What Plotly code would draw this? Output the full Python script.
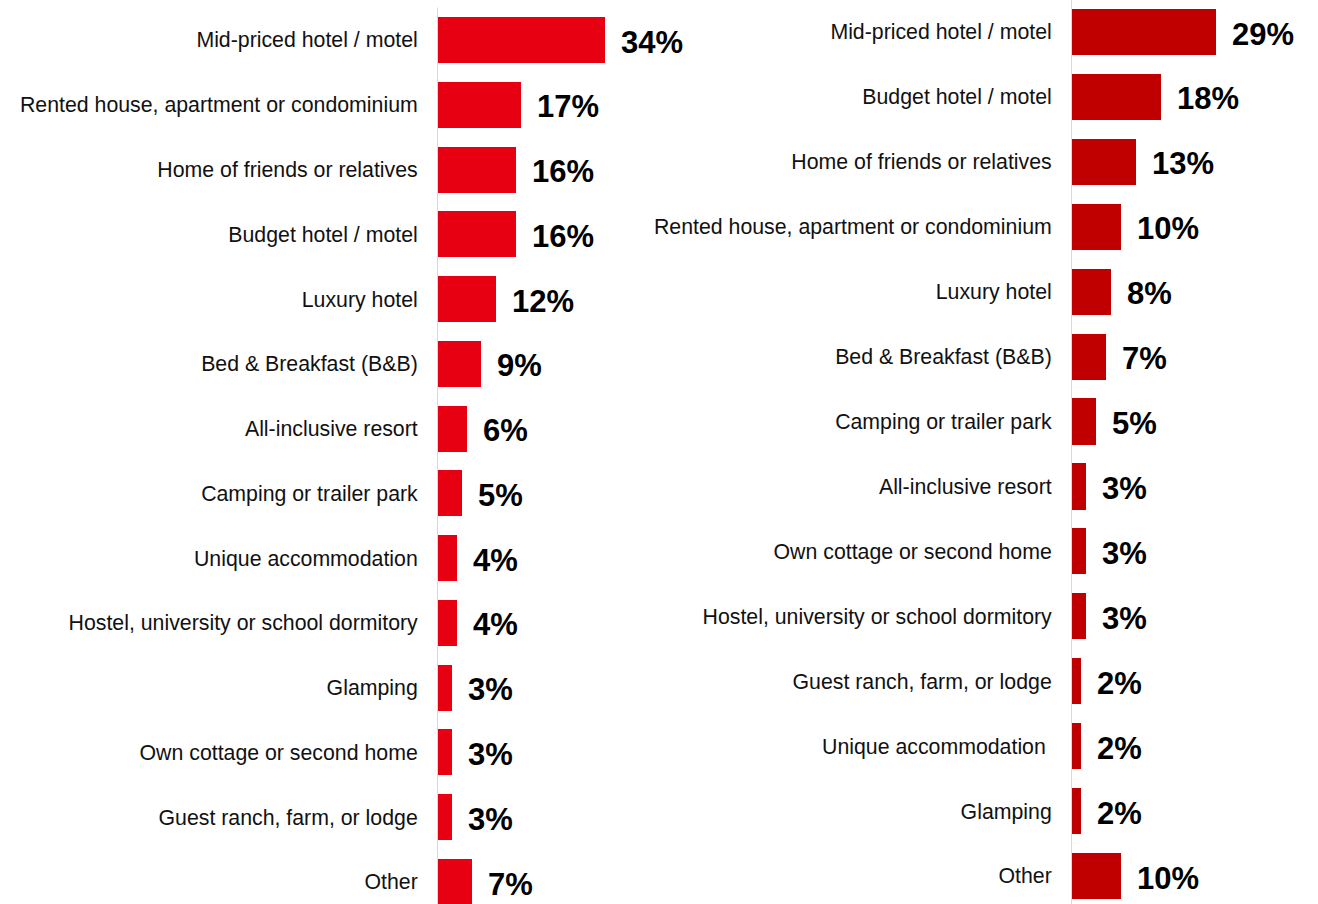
import plotly.graph_objects as go

# Accommodation types and shares (%) for the two panels
left_categories = [
    "Mid-priced hotel / motel", "Rented house, apartment or condominium",
    "Home of friends or relatives", "Budget hotel / motel", "Luxury hotel",
    "Bed & Breakfast (B&B)", "All-inclusive resort", "Camping or trailer park",
    "Unique accommodation", "Hostel, university or school dormitory",
    "Glamping", "Own cottage or second home", "Guest ranch, farm, or lodge", "Other",
]
left_values = [34, 17, 16, 16, 12, 9, 6, 5, 4, 4, 3, 3, 3, 7]

right_categories = [
    "Mid-priced hotel / motel", "Budget hotel / motel",
    "Home of friends or relatives", "Rented house, apartment or condominium",
    "Luxury hotel", "Bed & Breakfast (B&B)", "Camping or trailer park",
    "All-inclusive resort", "Own cottage or second home",
    "Hostel, university or school dormitory", "Guest ranch, farm, or lodge",
    "Unique accommodation\u00a0", "Glamping", "Other",
]
right_values = [29, 18, 13, 10, 8, 7, 5, 3, 3, 3, 2, 2, 2, 10]

W, H = 1318, 904
LEFT_RED = "#E60012"
RIGHT_RED = "#C00000"
LABEL_FONT = dict(family="Liberation Sans, Arial, sans-serif", size=21.3, color="#111111")
VALUE_FONT = dict(family="Liberation Sans, Arial, sans-serif", size=31, color="#000000")

fig = go.Figure()

panels = [
    (left_categories, left_values, LEFT_RED, "x", "y"),
    (right_categories, right_values, RIGHT_RED, "x2", "y2"),
]

for cats, vals, color, xa, ya in panels:
    idx = list(range(len(cats)))
    fig.add_trace(go.Bar(
        x=vals, y=idx, orientation="h", marker=dict(color=color, line=dict(width=0)),
        width=0.71, xaxis=xa, yaxis=ya, hoverinfo="skip", showlegend=False,
    ))
    for i, v in zip(idx, vals):
        fig.add_annotation(
            x=v, y=i, xref=xa, yref=ya, text=f"<b>{v}%</b>", showarrow=False,
            xanchor="left", yanchor="middle", xshift=14, yshift=-2, font=VALUE_FONT,
        )
    # vertical baseline
    fig.add_shape(type="line", xref=xa, yref=ya, x0=0, x1=0, y0=-0.5, y1=len(cats) - 0.5,
                  line=dict(color="#D9D9D9", width=2), layer="above")

# pixel geometry -> axis domains/ranges
left_axis_px, left_end_px, left_scale = 437, 720, 4.94
right_axis_px, right_end_px, right_scale = 1071, 1318, 5.0

def yrange(first_px, last_px, n):
    step = (last_px - first_px) / (n - 1)
    top = 0 - first_px / step
    bottom = (n - 1) + (H - last_px) / step
    return [bottom, top]

common_x = dict(showgrid=False, zeroline=False, showticklabels=False, showline=False, fixedrange=True)
common_y = dict(showgrid=False, zeroline=False, showline=False, ticks="outside",
                ticklen=14, tickcolor="rgba(0,0,0,0)", tickfont=LABEL_FONT, fixedrange=True)

fig.update_layout(
    width=W, height=H,
    margin=dict(l=0, r=0, t=0, b=0),
    paper_bgcolor="white", plot_bgcolor="white",
    bargap=0,
    xaxis=dict(domain=[left_axis_px / W, left_end_px / W],
               range=[0, (left_end_px - left_axis_px) / left_scale], anchor="y", **common_x),
    xaxis2=dict(domain=[right_axis_px / W, right_end_px / W],
                range=[0, (right_end_px - right_axis_px) / right_scale], anchor="y2", **common_x),
    yaxis=dict(anchor="x", range=yrange(40, 882, len(left_categories)),
               tickmode="array", tickvals=list(range(len(left_categories))),
               ticktext=left_categories, **common_y),
    yaxis2=dict(anchor="x2", range=yrange(32, 876, len(right_categories)),
                tickmode="array", tickvals=list(range(len(right_categories))),
                ticktext=right_categories, **common_y),
)

fig.write_html("out.html")
